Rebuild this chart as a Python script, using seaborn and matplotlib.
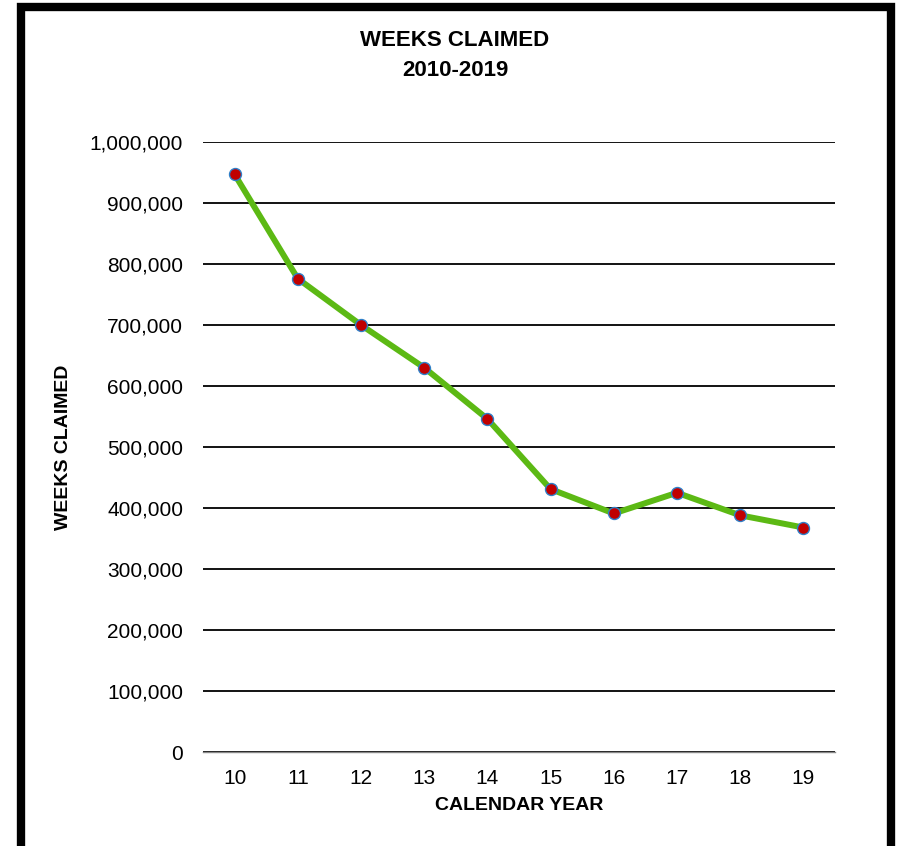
import matplotlib
matplotlib.use("Agg")
import matplotlib.pyplot as plt
import matplotlib.ticker as mticker
from matplotlib.patches import Rectangle
import seaborn as sns
import pandas as pd

# data
years = ["10", "11", "12", "13", "14", "15", "16", "17", "18", "19"]
weeks_claimed = [947000, 776000, 700000, 630000, 546000, 431000, 391000, 425000, 388000, 368000]

df = pd.DataFrame({"pos": range(len(years)), "weeks": weeks_claimed})

sns.set_style("white")
plt.rcParams["font.family"] = ["Liberation Sans", "DejaVu Sans"]
plt.rcParams["text.color"] = "black"
plt.rcParams["axes.labelcolor"] = "black"
plt.rcParams["xtick.color"] = "black"
plt.rcParams["ytick.color"] = "black"

fig = plt.figure(figsize=(8.98, 8.46), dpi=100)
ax = fig.add_axes([203 / 898, 1 - 752 / 846, 632 / 898, 610 / 846])

sns.lineplot(data=df, x="pos", y="weeks", ax=ax, color="#5cb914", linewidth=4.3,
             marker="o", markersize=8.6, markerfacecolor="#c00000",
             markeredgecolor="#2e7fc8", markeredgewidth=1.0, zorder=3)

ax.set_xlim(-0.5, len(years) - 0.5)
ax.set_ylim(0, 1000000)
ax.yaxis.set_major_locator(mticker.MultipleLocator(100000))
ax.yaxis.set_major_formatter(mticker.FuncFormatter(lambda v, p: f"{int(v):,}"))
ax.grid(axis="y", color="black", linewidth=1.3)
ax.set_axisbelow(True)

ax.set_xticks(range(len(years)))
ax.set_xticklabels(years)
ax.set_xticks([i - 0.5 for i in range(len(years) + 1)], minor=True)
ax.tick_params(axis="x", which="major", length=0, pad=12.5, labelsize=15)
ax.tick_params(axis="x", which="minor", length=4, color="#888888", width=1, direction="out")
ax.tick_params(axis="y", length=0, pad=14.4, labelsize=15)

for s in ["top", "right", "left"]:
    ax.spines[s].set_visible(False)
ax.spines["bottom"].set_color("#888888")
ax.spines["bottom"].set_linewidth(1)

ax.set_xlabel("CALENDAR YEAR", fontsize=14, fontweight="bold")
ax.xaxis.set_label_coords(0.5, (752 - 805) / 610)
ax.xaxis.label.set_va("center")
ax.set_ylabel("WEEKS CLAIMED", fontsize=14, fontweight="bold")
ax.yaxis.set_label_coords((63 - 203) / 632, 0.5)
ax.yaxis.label.set_va("center")

fig.text(455 / 898, 1 - 41 / 846, "WEEKS CLAIMED", ha="center", va="center",
         fontsize=16, fontweight="bold")
fig.text(455 / 898, 1 - 70 / 846, "2010-2019", ha="center", va="center",
         fontsize=16, fontweight="bold")

# black frame around the chart
fig.patches.append(Rectangle((21 / 898, -6 / 846), 870 / 898, (846 - 7 + 6) / 846,
                             transform=fig.transFigure, fill=False,
                             edgecolor="black", linewidth=6))

fig.savefig("out.png", dpi=100)
